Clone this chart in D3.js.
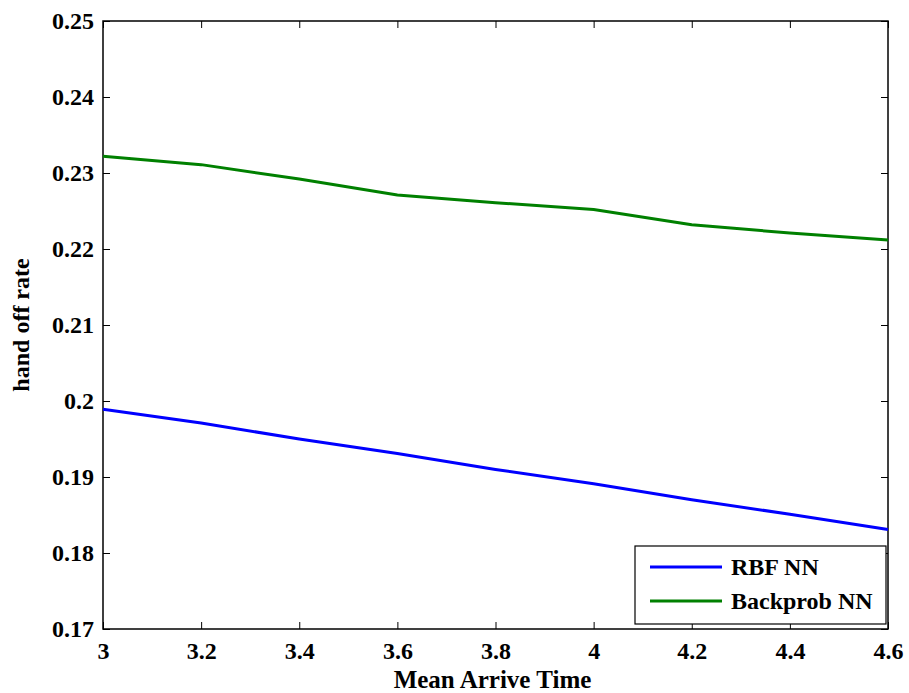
<!DOCTYPE html>
<html><head><meta charset="utf-8">
<script src="https://cdn.jsdelivr.net/npm/d3@7"></script>
<style>body{margin:0;background:#fff}svg{display:block}text{font-family:"Liberation Serif","Times New Roman",serif;font-weight:bold}</style>
</head><body><svg id="c" width="909" height="693"></svg>
<script>
const xValues = [3, 3.2, 3.4, 3.6, 3.8, 4.0, 4.2, 4.4, 4.6];
const rbfValues = [0.1989, 0.1971, 0.1950, 0.1931, 0.1910, 0.1891, 0.1870, 0.1851, 0.1831];
const backpropValues = [0.2322, 0.2311, 0.2292, 0.2271, 0.2261, 0.2252, 0.2232, 0.2221, 0.2212];
const xTicks = [3, 3.2, 3.4, 3.6, 3.8, 4, 4.2, 4.4, 4.6];
const yTicks = [0.17, 0.18, 0.19, 0.2, 0.21, 0.22, 0.23, 0.24, 0.25];
const seriesNames = ["RBF NN", "Backprob NN"];
const seriesColors = ["#0000ff", "#008000"];

const svg = d3.select("#c");
const L = 103, T = 21, R = 888, B = 629;
const x = d3.scaleLinear().domain([3, 4.6]).range([L, R]);
const y = d3.scaleLinear().domain([0.17, 0.25]).range([B, T]);
const fmtY = d => d3.format(".2f")(d).replace(/0$/, "").replace(/\.$/, "");
const fmtX = d => String(+d.toFixed(1));

const tl = 7;
const gb = svg.append("g").attr("transform", `translate(0,${B})`)
  .call(d3.axisBottom(x).tickValues(xTicks).tickSize(-tl).tickPadding(13).tickFormat(fmtX));
const gt = svg.append("g").attr("transform", `translate(0,${T})`)
  .call(d3.axisTop(x).tickValues(xTicks).tickSize(-tl).tickFormat(""));
const gl = svg.append("g").attr("transform", `translate(${L},0)`)
  .call(d3.axisLeft(y).tickValues(yTicks).tickSize(-tl).tickPadding(9).tickFormat(fmtY));
const gr = svg.append("g").attr("transform", `translate(${R},0)`)
  .call(d3.axisRight(y).tickValues(yTicks).tickSize(-tl).tickFormat(""));
[gb, gt, gl, gr].forEach(g => {
  g.select(".domain").remove();
  g.selectAll(".tick line").attr("stroke", "#000").attr("stroke-width", 1);
  g.selectAll("text").attr("fill", "#000").style("font-size", "24px");
});
gb.selectAll("text").attr("dy", "0.71em");

svg.append("rect").attr("x", L).attr("y", T).attr("width", R - L).attr("height", B - T)
  .attr("fill", "none").attr("stroke", "#000").attr("stroke-width", 1.5);

const line = d3.line().x((d, i) => x(xValues[i])).y(d => y(d));
[rbfValues, backpropValues].forEach((vals, i) => {
  svg.append("path").datum(vals).attr("d", line).attr("fill", "none")
    .attr("stroke", seriesColors[i]).attr("stroke-width", 3).attr("stroke-linejoin", "round");
});

const lg = svg.append("g");
lg.append("rect").attr("x", 635).attr("y", 546).attr("width", 251).attr("height", 78)
  .attr("fill", "#fff").attr("stroke", "#000").attr("stroke-width", 1.2);
seriesNames.forEach((n, i) => {
  const yy = 567 + i * 34;
  lg.append("line").attr("x1", 650).attr("x2", 722).attr("y1", yy).attr("y2", yy)
    .attr("stroke", seriesColors[i]).attr("stroke-width", 3);
  lg.append("text").attr("x", 731).attr("y", yy).attr("dy", "0.35em").text(n)
    .style("font-size", "24px").attr("fill", "#000");
});

svg.append("text").attr("x", (L + R) / 2 - 3).attr("y", 688).attr("text-anchor", "middle")
  .style("font-size", "25px").text("Mean Arrive Time");
svg.append("text").attr("transform", `translate(29,${(T + B) / 2}) rotate(-90)`)
  .attr("text-anchor", "middle").style("font-size", "24px").text("hand off rate");
</script></body></html>
